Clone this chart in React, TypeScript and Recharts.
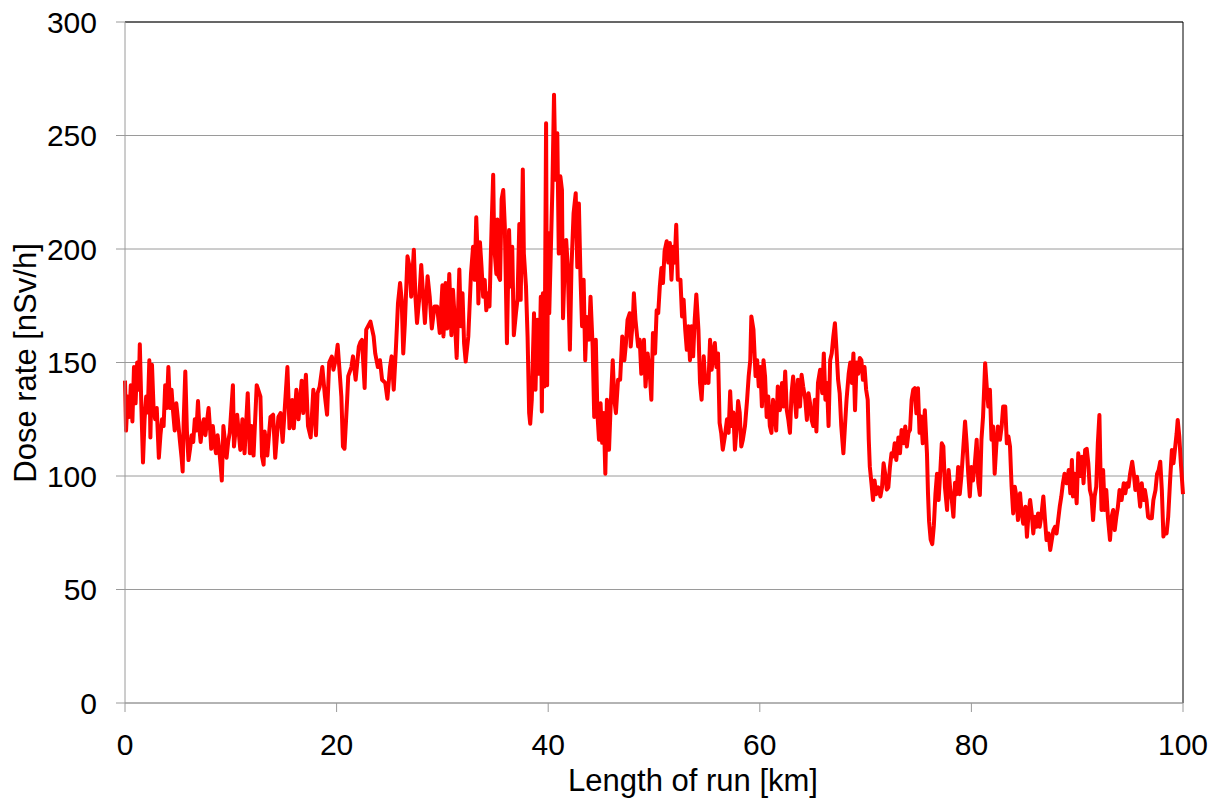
import React from "react";
import { LineChart, Line, XAxis, YAxis, CartesianGrid, ReferenceLine } from "recharts";

const kmValues: number[] = [
  0.0, 0.1, 0.25, 0.4, 0.55, 0.7, 0.85, 1.0, 1.15, 1.3, 1.4, 1.55, 1.7, 1.85, 2.0, 2.15, 2.3, 2.4, 2.55, 2.7,
  2.85, 3.0, 3.2, 3.35, 3.5, 3.65, 3.8, 3.95, 4.1, 4.25, 4.4, 4.55, 4.7, 4.85, 5.0, 5.2, 5.35, 5.45, 5.55, 5.7,
  5.85, 6.0, 6.15, 6.3, 6.45, 6.6, 6.75, 6.9, 7.05, 7.15, 7.3, 7.45, 7.6, 7.75, 7.9, 8.05, 8.15, 8.3, 8.45, 8.6,
  8.75, 8.9, 9.05, 9.15, 9.3, 9.45, 9.6, 9.75, 9.9, 10.2, 10.3, 10.6, 10.9, 11.1, 11.3, 11.6, 11.8, 11.95, 12.15, 12.45,
  12.8, 12.95, 13.1, 13.2, 13.45, 13.75, 14.0, 14.2, 14.5, 14.7, 14.9, 15.35, 15.55, 15.8, 15.95, 16.2, 16.4, 16.7, 16.85, 17.1,
  17.3, 17.55, 17.8, 18.05, 18.2, 18.4, 18.65, 18.9, 19.1, 19.3, 19.55, 19.7, 19.95, 20.1, 20.3, 20.45, 20.6, 20.75, 21.0, 21.1,
  21.4, 21.55, 21.8, 22.1, 22.25, 22.4, 22.65, 22.8, 23.2, 23.5, 23.65, 23.9, 24.1, 24.3, 24.6, 24.8, 25.05, 25.2, 25.4, 25.6,
  25.8, 26.0, 26.15, 26.3, 26.45, 26.7, 26.9, 27.05, 27.3, 27.45, 27.6, 27.8, 28.0, 28.2, 28.35, 28.6, 28.8, 29.0, 29.25, 29.5,
  29.75, 30.0, 30.1, 30.3, 30.45, 30.65, 30.85, 31.0, 31.2, 31.35, 31.6, 31.75, 31.9, 32.05, 32.2, 32.45, 32.7, 32.9, 33.05, 33.2,
  33.3, 33.4, 33.55, 33.7, 33.85, 34.0, 34.15, 34.3, 34.45, 34.65, 34.8, 34.9, 35.1, 35.2, 35.3, 35.45, 35.6, 35.75, 35.9, 36.1,
  36.3, 36.45, 36.6, 36.75, 36.95, 37.1, 37.27, 37.4, 37.6, 37.7, 37.9, 38.05, 38.2, 38.3, 38.45, 38.66, 38.8, 38.97, 39.15, 39.3,
  39.4, 39.5, 39.65, 39.8, 39.9, 40.0, 40.1, 40.4, 40.55, 40.7, 40.86, 41.0, 41.15, 41.3, 41.4, 41.55, 41.7, 41.85, 42.05, 42.2,
  42.4, 42.6, 42.75, 42.9, 43.05, 43.2, 43.35, 43.5, 43.65, 43.85, 44.0, 44.2, 44.35, 44.5, 44.65, 44.8, 44.95, 45.1, 45.25, 45.4,
  45.55, 45.75, 45.9, 46.1, 46.25, 46.4, 46.6, 46.8, 47.0, 47.2, 47.35, 47.5, 47.7, 47.8, 48.0, 48.1, 48.25, 48.5, 48.65, 48.8,
  49.05, 49.2, 49.4, 49.6, 49.75, 49.9, 50.1, 50.25, 50.4, 50.55, 50.7, 50.85, 51.0, 51.2, 51.35, 51.5, 51.65, 51.8, 51.95, 52.1,
  52.25, 52.5, 52.65, 52.8, 52.95, 53.1, 53.25, 53.4, 53.55, 53.7, 53.85, 54.0, 54.2, 54.35, 54.5, 54.7, 54.85, 54.97, 55.15, 55.3,
  55.45, 55.6, 55.75, 55.9, 56.05, 56.2, 56.35, 56.5, 56.7, 56.9, 57.05, 57.2, 57.35, 57.5, 57.65, 57.8, 57.95, 58.1, 58.25, 58.4,
  58.6, 58.8, 58.95, 59.1, 59.2, 59.4, 59.6, 59.75, 59.9, 60.05, 60.2, 60.35, 60.5, 60.65, 60.8, 60.95, 61.1, 61.25, 61.4, 61.55,
  61.7, 61.9, 62.1, 62.25, 62.4, 62.55, 62.7, 62.85, 63.0, 63.15, 63.3, 63.45, 63.6, 63.8, 63.95, 64.1, 64.3, 64.45, 64.6, 64.75,
  64.9, 65.05, 65.2, 65.35, 65.5, 65.7, 65.9, 66.05, 66.2, 66.35, 66.5, 66.65, 66.8, 66.95, 67.1, 67.25, 67.4, 67.55, 67.7, 67.9,
  68.05, 68.2, 68.4, 68.55, 68.7, 68.85, 69.0, 69.15, 69.3, 69.45, 69.6, 69.75, 69.9, 70.05, 70.2, 70.3, 70.4, 70.55, 70.7, 70.85,
  71.0, 71.2, 71.4, 71.55, 71.7, 71.85, 72.0, 72.15, 72.3, 72.45, 72.6, 72.75, 72.9, 73.1, 73.25, 73.4, 73.6, 73.75, 73.9, 74.05,
  74.2, 74.35, 74.5, 74.65, 74.8, 74.95, 75.1, 75.25, 75.4, 75.6, 75.8, 75.9, 76.0, 76.15, 76.3, 76.45, 76.6, 76.75, 76.9, 77.05,
  77.2, 77.35, 77.5, 77.7, 77.85, 78.0, 78.15, 78.3, 78.45, 78.6, 78.75, 78.9, 79.05, 79.2, 79.4, 79.55, 79.7, 79.85, 80.0, 80.15,
  80.3, 80.5, 80.65, 80.8, 80.95, 81.1, 81.3, 81.45, 81.6, 81.75, 81.9, 82.05, 82.2, 82.35, 82.5, 82.7, 82.86, 83.0, 83.2, 83.35,
  83.5, 83.65, 83.8, 83.95, 84.1, 84.25, 84.4, 84.6, 84.75, 84.9, 85.1, 85.25, 85.4, 85.55, 85.7, 85.85, 86.0, 86.15, 86.3, 86.45,
  86.6, 86.8, 86.96, 87.1, 87.3, 87.45, 87.6, 87.75, 87.9, 88.05, 88.2, 88.35, 88.5, 88.65, 88.8, 89.0, 89.2, 89.35, 89.5, 89.6,
  89.75, 89.95, 90.1, 90.3, 90.45, 90.6, 90.75, 90.9, 91.05, 91.2, 91.35, 91.5, 91.65, 91.8, 91.95, 92.1, 92.2, 92.3, 92.45, 92.6,
  92.75, 92.9, 93.1, 93.25, 93.4, 93.55, 93.7, 93.85, 94.0, 94.2, 94.4, 94.55, 94.7, 94.85, 95.0, 95.2, 95.35, 95.5, 95.65, 95.8,
  95.95, 96.1, 96.25, 96.4, 96.55, 96.7, 96.85, 97.05, 97.2, 97.4, 97.55, 97.7, 97.85, 98.0, 98.15, 98.3, 98.45, 98.6, 98.8, 98.95,
  99.1, 99.3, 99.4, 99.5, 99.65, 99.8, 100.0,
];

const doseValues: number[] = [
  142, 120, 135, 126, 140, 124, 148, 132, 150, 138, 158, 130, 106, 125, 135, 128, 151, 117, 149, 130,
  125, 130, 108, 118, 125, 122, 140, 130, 148, 130, 138, 128, 120, 132, 125, 115, 108, 102, 125, 146,
  120, 107, 112, 118, 115, 125, 120, 133, 120, 115, 122, 125, 118, 124, 130, 120, 112, 122, 115, 110,
  118, 112, 104, 98, 122, 115, 108, 115, 119, 140, 113, 127, 111.5, 125, 110, 136.5, 110, 122, 109, 140,
  135, 108.6, 105, 119.6, 109, 126, 127, 108, 126, 127.7, 115, 148, 121, 133.5, 121, 138, 125, 142, 127.7, 144.6,
  122, 117, 138, 118, 136.5, 139.4, 148, 135, 127, 150, 152.6, 146.8, 152, 157.8, 145, 135, 113, 112, 134, 144,
  148, 152.7, 142.4, 157, 159, 160, 138.8, 164.5, 168, 161.5, 154, 148, 151, 142.4, 141, 134, 148, 152.7, 138, 155.6,
  176, 185, 177.7, 154, 167, 196.8, 192, 179, 199.7, 179, 167.4, 177.7, 193, 177.7, 167.4, 188, 179, 165, 174.7, 174.7,
  163, 184, 161.5, 185, 165, 189, 162, 182, 166.6, 152, 191, 166, 180.5, 158.5, 150.4, 161.5, 189, 201, 186.4, 214,
  201, 176, 203, 192, 179, 186.4, 173, 180.5, 174.7, 210, 232.7, 201, 189, 213, 188, 186.4, 222, 226, 210, 158.5,
  208.4, 183.5, 201, 162, 171.7, 178, 211, 177.6, 235, 198, 183.5, 161.5, 127.7, 123, 133.6, 171.7, 138, 168.8, 145, 179,
  128.4, 180.5, 139.4, 255.4, 140, 207, 171.7, 227.5, 268, 230.5, 251, 198, 232, 226, 169.5, 192, 204, 192, 155.6, 192,
  215.8, 224.6, 192, 220, 188, 166, 186.4, 151, 170, 160, 179, 157, 126, 160, 127.7, 116, 132, 114.6, 127.7, 101,
  133.6, 111.6, 130.5, 151, 133.6, 127.7, 142.4, 142.4, 161.5, 151, 158.5, 168.8, 171.7, 157, 168.8, 180.5, 168.8, 157, 160, 145,
  160, 139.4, 154, 145, 133.6, 163, 154, 173, 171.8, 183.5, 191.6, 185, 199, 203.4, 194, 202.6, 186.5, 201, 194, 210.7,
  186.5, 186.5, 170.3, 177.7, 164.5, 155.6, 166, 151, 166, 152.7, 169, 180, 164.5, 141, 133.6, 152.7, 141, 144, 141, 160,
  146.8, 154, 158.6, 148, 154, 123.4, 119, 111.6, 117.5, 125, 119, 137.3, 122, 128, 111.6, 120.4, 133, 128, 113, 116,
  122, 133.6, 144, 151, 170.3, 164.5, 144, 151, 139.5, 148, 130.7, 151, 143.8, 126, 135, 122, 119, 133.6, 129, 120,
  139.4, 129, 141, 130.6, 146, 129, 124.7, 119, 136.5, 143.8, 135, 126, 142.4, 130.6, 144.6, 139.4, 133.6, 124.7, 136.5, 132,
  124.7, 122, 133.6, 119.6, 141, 146.8, 136.5, 154, 133.6, 141, 122, 151, 154, 161.5, 167.3, 155.6, 142.4, 136.5, 122, 110,
  122, 133.6, 145, 150, 141, 154, 129, 150, 145, 152, 151, 142.4, 148, 138, 133.6, 116, 104, 97, 89.4, 98,
  92, 95, 91, 95, 105.6, 101, 94, 95, 104, 110, 108.6, 114.4, 107, 117, 110, 120.3, 114.4, 121.8, 113, 119,
  120.3, 133.6, 138, 138.7, 127.6, 138.7, 119, 126.2, 114.4, 129, 110, 92, 80, 72, 70, 78, 92, 101, 89.4, 101,
  114.4, 113, 95, 85, 102.6, 94, 89.4, 82, 97, 92, 104, 92, 99.6, 110, 124, 114.4, 101, 91, 104, 98,
  104, 116, 97, 91.6, 116, 126, 149.7, 139.4, 130.6, 138, 116, 121.8, 101, 113, 121.8, 116, 121.8, 130.6, 130.6, 114.4,
  117.4, 113, 95.3, 83.5, 95.3, 91, 80.6, 92.4, 83.5, 79, 86.5, 73.2, 83.5, 89.4, 83.5, 74.7, 82, 77.6, 83.5, 77.6,
  82, 91, 80.6, 71.8, 74.7, 67.4, 71.8, 76.2, 77.6, 74.7, 80.6, 86.5, 91, 96.8, 101, 96.8, 102.6, 92.4, 107, 91,
  101, 88, 110, 100, 108.5, 96.8, 111.5, 112, 105.6, 93.8, 91, 80.6, 91, 95.3, 114.4, 126.9, 102.6, 85, 102.6, 85,
  93.8, 82, 71.8, 82, 85, 76.2, 82, 86.5, 93.8, 89.4, 96.8, 92.4, 96.8, 95.3, 101, 106.3, 101, 93.8, 99.7, 93.8,
  86.5, 96.8, 89.4, 93.8, 89.4, 82, 81.4, 81.4, 89.4, 93.8, 101, 102.6, 106.3, 93.8, 73.3, 76.2, 74.7, 82, 99.7, 111.5,
  105.6, 114.4, 118.8, 124.7, 117.4, 105.6, 92,
];

const xTicks: number[] = [0, 20, 40, 60, 80, 100];
const yTicks: number[] = [0, 50, 100, 150, 200, 250, 300];
const xTitle = "Length of run [km]";
const yTitle = "Dose rate [nSv/h]";

const data = kmValues.map((km, i) => ({ km, dose: doseValues[i] }));

const FONT = "'Liberation Sans', Arial, sans-serif";

const YTitle = () => (
  <text
    x={25}
    y={363}
    transform="rotate(-90 25 363)"
    textAnchor="middle"
    dominantBaseline="central"
    fontFamily={FONT}
    fontSize={31}
    fill="#000"
  >
    {yTitle}
  </text>
);

const XTitle = () => (
  <text x={693} y={791} textAnchor="middle" fontFamily={FONT} fontSize={31} fill="#000">
    {xTitle}
  </text>
);

export default function App() {
  return (
    <div style={{ position: "absolute", left: 0, top: 0, width: 1221, height: 803, background: "#fff" }}>
      <LineChart
        width={1221}
        height={803}
        data={data}
        margin={{ top: 22, right: 38, bottom: 0, left: 0 }}
      >
        <CartesianGrid vertical={false} stroke="#9a9a9a" strokeWidth={1} />
        <XAxis
          dataKey="km"
          type="number"
          domain={[0, 100]}
          ticks={xTicks}
          height={100}
          stroke="#9a9a9a"
          tickSize={9}
          tickMargin={22}
          tick={{ fill: "#000", fontSize: 30, fontFamily: FONT }}
          label={<XTitle />}
        />
        <YAxis
          type="number"
          domain={[0, 300]}
          ticks={yTicks}
          width={125}
          stroke="#9a9a9a"
          tickSize={9}
          tickMargin={19}
          tick={{ fill: "#000", fontSize: 30, fontFamily: FONT }}
          label={<YTitle />}
        />
        <ReferenceLine y={300} stroke="#000" strokeWidth={1} />
        <ReferenceLine x={100} stroke="#000" strokeWidth={1} />
        <Line
          type="linear"
          dataKey="dose"
          stroke="#ff0000"
          strokeWidth={4}
          strokeLinejoin="round"
          dot={false}
          isAnimationActive={false}
        />
      </LineChart>
    </div>
  );
}
